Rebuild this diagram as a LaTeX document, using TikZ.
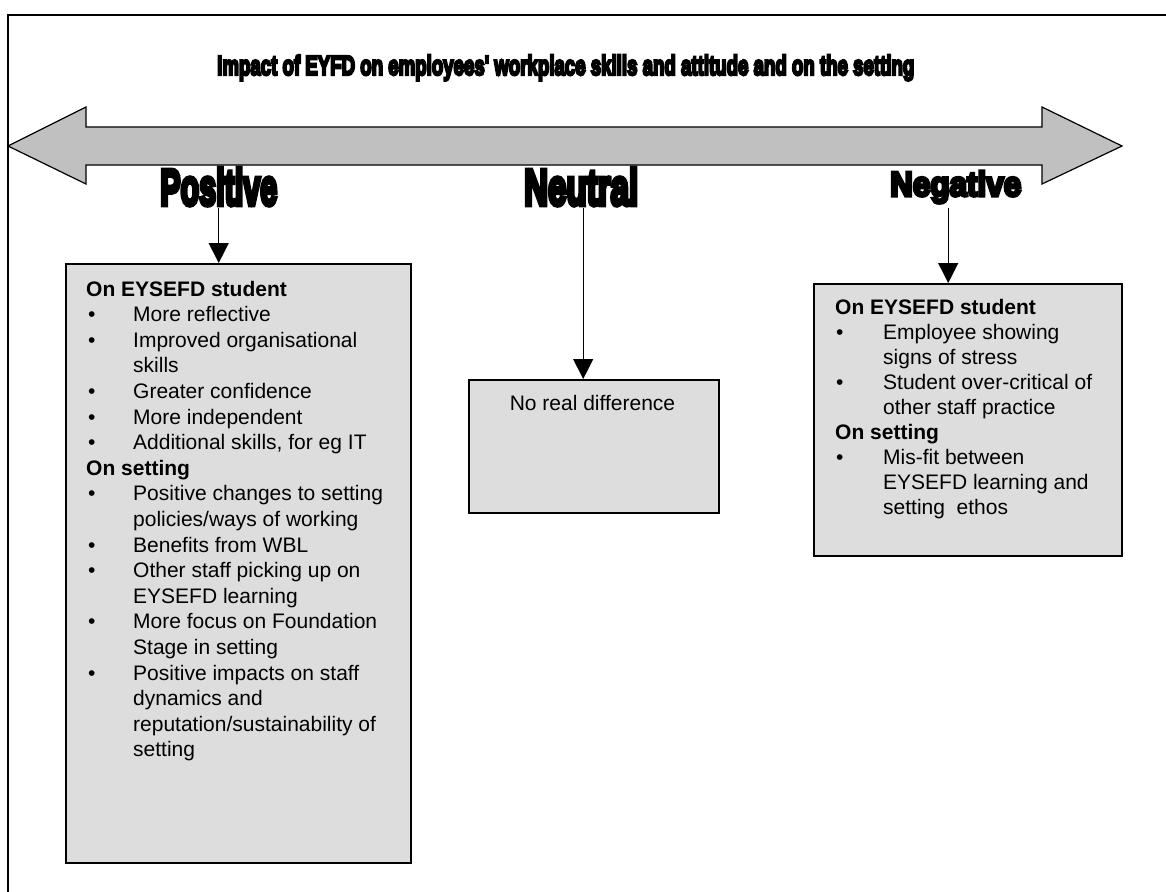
\documentclass[tikz,border=0pt]{standalone}
\usepackage{fontspec}
\setmainfont{Liberation Sans}
\newfontfamily\heavyfont[BoldFeatures={FakeBold=9}]{Liberation Sans}
\usepackage{graphicx}
\usetikzlibrary{arrows.meta}
\definecolor{boxgrey}{HTML}{DDDDDD}
\definecolor{arrowgrey}{HTML}{C0C0C0}
\tikzset{
  box/.style={draw=black, line width=1.5pt, fill=boxgrey, inner sep=0pt, anchor=north west},
  lbl/.style={inner sep=0pt, anchor=base west},
  txt/.style={inner sep=0pt, anchor=base west, font=\fontsize{21}{25.6}\selectfont},
  conn/.style={line width=1.2pt, -{Triangle[width=20pt,length=20pt]}},
  bigarrow/.style={draw=black, line width=1.2pt, fill=arrowgrey, line join=miter}
}
\newcommand{\bl}{\makebox[47pt][l]{\hspace{2pt}\textbullet}}
\newcommand{\br}{\makebox[48pt][l]{\hspace{1pt}\textbullet}}
\begin{document}
\begin{tikzpicture}[x=1pt, y=-1pt]
\useasboundingbox (0,0) rectangle (1166,891);
\clip (0,0) rectangle (1166,891);
% outer frame
\draw[line width=1.5pt] (8,900) -- (8,15) -- (1180,15);
% title
\node[lbl] (title) at (217,75) {\resizebox{697pt}{20pt}{\heavyfont\bfseries Impact of EYFD on employees' workplace skills and attitude and on the setting}};
% big double arrow
\draw[bigarrow] (8,146) -- (86,107) -- (86,127) -- (1042,127) -- (1042,107) -- (1122,146)
  -- (1042,184) -- (1042,165) -- (86,165) -- (86,184) -- cycle;
% labels
\node[lbl] (pos) at (160,205) {\resizebox{117pt}{37pt}{\heavyfont\bfseries Positive}};
\node[lbl] (neu) at (524,205) {\resizebox{114pt}{37pt}{\heavyfont\bfseries Neutral}};
\node[lbl] (neg) at (890,196) {\resizebox{131pt}{25pt}{\heavyfont\bfseries Negative}};
% boxes
\node[box, minimum width=345pt, minimum height=599pt] (posbox) at (65,263) {};
\node[box, minimum width=250pt, minimum height=133pt] (neubox) at (468,379) {};
\node[box, minimum width=308pt, minimum height=272pt] (negbox) at (813,283) {};
% connectors
\coordinate (posstart) at ([yshift=-2pt]pos.south);
\coordinate (neustart) at ([xshift=2pt,yshift=-2pt]neu.south);
\coordinate (negstart) at ([xshift=-7.5pt,yshift=-4pt]neg.south);
\draw[conn] (posstart) -- (posstart |- posbox.north);
\draw[conn] (neustart) -- (neustart |- neubox.north);
\draw[conn] (negstart) -- (negstart |- negbox.north);
% box texts
\node[txt] (postext) at (86,296) {\begin{tabular}[t]{@{}l@{}l@{}}
\multicolumn{2}{@{}l@{}}{\bfseries On EYSEFD student}\\
\bl & More reflective\\
\bl & Improved organisational\\
 & skills\\
\bl & Greater confidence\\
\bl & More independent\\
\bl & Additional skills, for eg IT\\
\multicolumn{2}{@{}l@{}}{\bfseries On setting}\\
\bl & Positive changes to setting\\
 & policies/ways of working\\
\bl & Benefits from WBL\\
\bl & Other staff picking up on\\
 & EYSEFD learning\\
\bl & More focus on Foundation\\
 & Stage in setting\\
\bl & Positive impacts on staff\\
 & dynamics and\\
 & reputation/sustainability of\\
 & setting
\end{tabular}};
\node[txt, anchor=base] (neutext) at (592.5,410) {No real difference};
\node[txt, font=\fontsize{21}{25}\selectfont] (negtext) at (835,314) {\begin{tabular}[t]{@{}l@{}l@{}}
\multicolumn{2}{@{}l@{}}{\bfseries On EYSEFD student}\\
\br & Employee showing\\
 & signs of stress\\
\br & Student over-critical of\\
 & other staff practice\\
\multicolumn{2}{@{}l@{}}{\bfseries On setting}\\
\br & Mis-fit between\\
 & EYSEFD learning and\\
 & setting\ \ ethos
\end{tabular}};
\end{tikzpicture}
\end{document}
